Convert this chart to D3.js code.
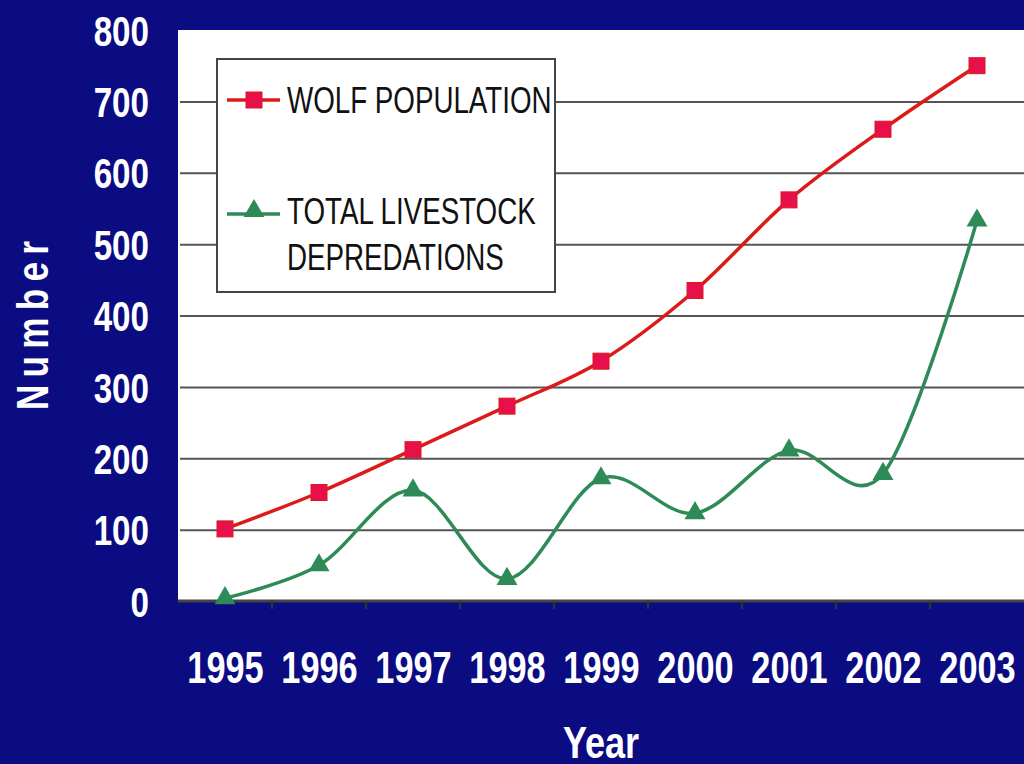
<!DOCTYPE html>
<html>
<head>
<meta charset="utf-8">
<script src="https://cdn.jsdelivr.net/npm/d3@7"></script>
<style>
  html, body { margin: 0; padding: 0; background: #0b0b82; }
  svg { display: block; }
  .tick text { font-family: "Liberation Sans", Arial, sans-serif; font-weight: bold; fill: #fff; }
</style>
</head>
<body>
<div id="chart"></div>
<script>
var years = ["1995", "1996", "1997", "1998", "1999", "2000", "2001", "2002", "2003"];
var wolfPopulation = [101, 152, 212, 273, 336, 435, 562, 661, 750];
var livestockDepredations = [4, 50, 155, 31, 172, 123, 211, 178, 533];
var yTicks = [0, 100, 200, 300, 400, 500, 600, 700, 800];

var width = 1024,
    height = 764,
    plotLeft = 178, plotRight = 1024, plotTop = 30, plotBottom = 601;

var svg = d3.select("#chart").append("svg")
    .attr("width", width)
    .attr("height", height);

svg.append("rect").attr("width", width).attr("height", height).attr("fill", "#0b0b82");

var x = d3.scalePoint().domain(years).range([plotLeft, plotRight]).padding(0.5);
var y = d3.scaleLinear().domain([0, 800]).range([plotBottom, plotTop]);

// plot area
svg.append("rect")
    .attr("x", plotLeft).attr("y", plotTop)
    .attr("width", plotRight - plotLeft).attr("height", plotBottom - plotTop)
    .attr("fill", "#fff");

// gridlines
var grid = svg.append("g")
    .attr("transform", "translate(" + plotLeft + ",0)")
    .call(d3.axisLeft(y).tickValues(yTicks.slice(1, -1)).tickSize(-(plotRight - plotLeft)).tickFormat(""));
grid.select(".domain").remove();
grid.selectAll("line").attr("stroke", "#555").attr("stroke-width", 2).attr("x1", 2);

// y labels
var yAxis = svg.append("g")
    .attr("transform", "translate(149,0)")
    .call(d3.axisLeft(y).tickValues(yTicks).tickSize(0).tickPadding(0));
yAxis.select(".domain").remove();
yAxis.selectAll("text")
    .attr("font-size", 42)
    .attr("dy", "0.36em")
    .attr("transform", "scale(0.79,1)");

// x axis line + boundary ticks
svg.append("line")
    .attr("x1", plotLeft).attr("x2", plotRight)
    .attr("y1", y(0)).attr("y2", y(0))
    .attr("stroke", "#444").attr("stroke-width", 3);

svg.append("g").selectAll("line")
    .data(years.slice(0, -1))
    .join("line")
    .attr("x1", function(d) { return x(d) + x.step() / 2; })
    .attr("x2", function(d) { return x(d) + x.step() / 2; })
    .attr("y1", y(0)).attr("y2", y(0) + 8)
    .attr("stroke", "#333").attr("stroke-width", 2);

var xAxis = svg.append("g")
    .attr("transform", "translate(0,667)")
    .call(d3.axisBottom(x).tickSize(0).tickPadding(0));
xAxis.select(".domain").remove();
xAxis.selectAll("text")
    .attr("font-size", 44)
    .attr("dy", "0.36em")
    .attr("y", 0)
    .attr("transform", "scale(0.78,1)");

// axis titles
svg.append("text")
    .attr("transform", "translate(" + x("1999") + ",742) scale(0.82,1)")
    .attr("dy", "0.36em")
    .attr("text-anchor", "middle")
    .attr("fill", "#fff")
    .attr("font-family", "Liberation Sans, Arial, sans-serif")
    .attr("font-weight", "bold")
    .attr("font-size", 44)
    .text("Year");

svg.append("text")
    .attr("transform", "translate(32,322) rotate(-90) scale(0.8,1)")
    .attr("dy", "0.36em")
    .attr("text-anchor", "middle")
    .attr("fill", "#fff")
    .attr("font-family", "Liberation Sans, Arial, sans-serif")
    .attr("font-weight", "bold")
    .attr("font-size", 44)
    .attr("letter-spacing", 9)
    .text("Number");

// lines
var line = d3.line()
    .x(function(d, i) { return x(years[i]); })
    .y(function(d) { return y(d); })
    .curve(d3.curveCatmullRom.alpha(0));

svg.append("path")
    .datum(livestockDepredations)
    .attr("fill", "none")
    .attr("stroke", "#2e8b57")
    .attr("stroke-width", 3.5)
    .attr("d", line);

svg.append("path")
    .datum(wolfPopulation)
    .attr("fill", "none")
    .attr("stroke", "#dd1a1a")
    .attr("stroke-width", 3.5)
    .attr("d", line);

var tri = d3.symbol().type(d3.symbolTriangle).size(190);
svg.append("g").selectAll("path")
    .data(livestockDepredations)
    .join("path")
    .attr("transform", function(d, i) { return "translate(" + x(years[i]) + "," + y(d) + ")"; })
    .attr("d", tri)
    .attr("fill", "#2e8b57");

var sq = 16;
svg.append("g").selectAll("rect")
    .data(wolfPopulation)
    .join("rect")
    .attr("x", function(d, i) { return x(years[i]) - sq / 2; })
    .attr("y", function(d) { return y(d) - sq / 2; })
    .attr("width", sq).attr("height", sq)
    .attr("fill", "#e8104a")
    .attr("stroke", "#dd1a1a")
    .attr("stroke-width", 1);

// legend
var legend = svg.append("g").attr("transform", "translate(217,59)");
legend.append("rect")
    .attr("width", 338).attr("height", 233)
    .attr("fill", "#fff")
    .attr("stroke", "#444")
    .attr("stroke-width", 2);

var legFont = "Liberation Sans, Arial, sans-serif";
function legText(tx, ty, s) {
    legend.append("text")
        .attr("transform", "translate(" + tx + "," + ty + ") scale(0.75,1)")
        .attr("dy", "0.36em")
        .attr("font-family", legFont).attr("font-size", 37).attr("fill", "#111")
        .text(s);
}

legend.append("line").attr("x1", 10).attr("x2", 63).attr("y1", 41).attr("y2", 41)
    .attr("stroke", "#dd1a1a").attr("stroke-width", 3.5);
legend.append("rect").attr("x", 29).attr("y", 33).attr("width", sq).attr("height", sq)
    .attr("fill", "#e8104a").attr("stroke", "#dd1a1a");
legText(70, 41, "WOLF POPULATION");

legend.append("line").attr("x1", 10).attr("x2", 63).attr("y1", 155).attr("y2", 155)
    .attr("stroke", "#2e8b57").attr("stroke-width", 3.5);
legend.append("path").attr("transform", "translate(37,152)").attr("d", tri).attr("fill", "#2e8b57");
legText(70, 152, "TOTAL LIVESTOCK");
legText(70, 198, "DEPREDATIONS");
</script>
</body>
</html>
